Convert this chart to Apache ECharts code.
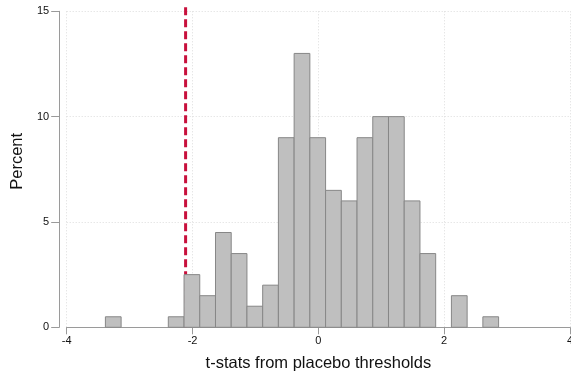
<!DOCTYPE html>
<html>
<head>
<meta charset="utf-8">
<script src="https://cdn.jsdelivr.net/npm/echarts@6/dist/echarts.min.js"></script>
<style>html,body{margin:0;padding:0;background:#fff;}#c{width:571px;height:374px;}</style>
</head>
<body>
<div id="c"></div>
<script>
// Histogram bins (left edges), common bin width, and percent per bin
const binStart = -3.385;
const binWidth = 0.25;
const percents = [0.5, 0, 0, 0, 0.5, 2.5, 1.5, 4.5, 3.5, 1, 2, 9, 13, 9, 6.5, 6, 9, 10, 10, 6, 3.5, 0, 1.5, 0, 0.5];
const xTicks = [-4, -2, 0, 2, 4];
const yTicks = [0, 5, 10, 15];
const refLineX = -2.11;
const refLineTop = 15.35;

const bins = percents.map((p, i) => [binStart + i * binWidth, binStart + (i + 1) * binWidth, p]);

const chart = echarts.init(document.getElementById('c'), null, {renderer: 'canvas'});
const font = '"Liberation Sans", Arial, Helvetica, sans-serif';
chart.setOption({
  animation: false,
  backgroundColor: '#fff',
  grid: {left: 66.7, right: 1, top: 11.3, bottom: 46.7, containLabel: false, outerBoundsMode: 'none'},
  xAxis: {
    type: 'value', min: xTicks[0], max: xTicks[xTicks.length - 1], interval: 2,
    name: 't-stats from placebo thresholds', nameLocation: 'middle', nameGap: 28,
    nameTextStyle: {fontFamily: font, fontSize: 16.5, color: '#111'},
    axisLine: {show: true, onZero: false, lineStyle: {color: '#9a9a9a', width: 1}},
    axisTick: {show: true, length: 7, lineStyle: {color: '#9a9a9a'}},
    axisLabel: {fontFamily: font, fontSize: 11, color: '#111', margin: 8},
    splitLine: {show: true, lineStyle: {color: '#dcdcdc', type: [1, 2], width: 1}}
  },
  yAxis: {
    type: 'value', min: yTicks[0], max: yTicks[yTicks.length - 1], interval: 5,
    offset: 7.5,
    name: 'Percent', nameLocation: 'middle', nameGap: 33,
    nameTextStyle: {fontFamily: font, fontSize: 16.5, color: '#111', padding: [0, 0, 0, 16]},
    axisLine: {show: true, onZero: false, lineStyle: {color: '#9a9a9a', width: 1}},
    axisTick: {show: true, length: 8, lineStyle: {color: '#9a9a9a'}},
    axisLabel: {fontFamily: font, fontSize: 11, color: '#111', margin: 10},
    splitLine: {show: true, lineStyle: {color: '#dcdcdc', type: [1, 2], width: 1}}
  },
  series: [
    {
      type: 'line',
      data: [[refLineX, 0], [refLineX, refLineTop]],
      clip: false,
      symbol: 'none',
      z: 1,
      lineStyle: {color: '#c8103c', width: 3, type: [8, 4]}
    },
    {
      type: 'custom',
      z: 2,
      clip: false,
      data: bins,
      renderItem: function (params, api) {
        const h = api.value(2);
        if (!h) return null;
        const p0 = api.coord([api.value(0), 0]);
        const p1 = api.coord([api.value(1), h]);
        return {
          type: 'rect',
          shape: {x: p0[0], y: p1[1], width: p1[0] - p0[0], height: p0[1] - p1[1]},
          style: {fill: '#bfbfbf', stroke: '#878787', lineWidth: 1}
        };
      }
    }
  ]
});
</script>
</body>
</html>
